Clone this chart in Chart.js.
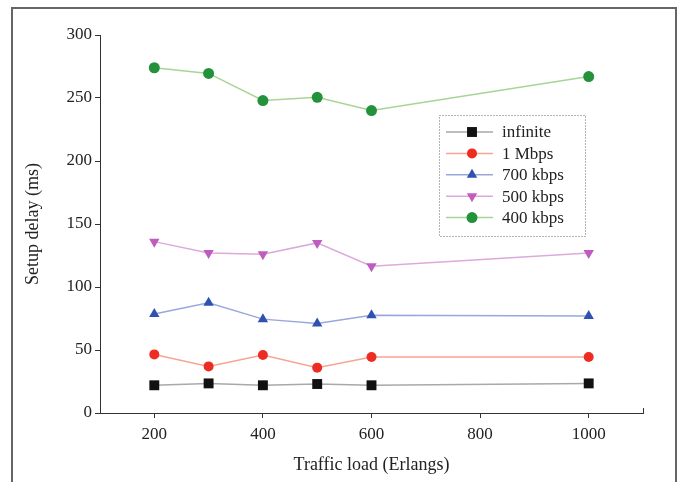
<!DOCTYPE html>
<html>
<head>
<meta charset="utf-8">
<script src="https://cdn.jsdelivr.net/npm/chart.js@4/dist/chart.umd.min.js"></script>
<style>
  html, body { margin: 0; padding: 0; background: #fff; }
  #wrap { position: relative; width: 679px; height: 482px; }
</style>
</head>
<body>
<div id="wrap"><canvas id="delay-chart" width="679" height="482"></canvas></div>
<script>
// traffic load points (Erlangs) and setup delay per link rate (ms)
var loads = [200, 300, 400, 500, 600, 1000];
var xTicks = [200, 400, 600, 800, 1000];
var seriesNames = ['infinite', '1 Mbps', '700 kbps', '500 kbps', '400 kbps'];
var delayInfinite = [22, 23.5, 22, 23, 22, 23.5];
var delay1M = [46.5, 37, 46, 36, 44.5, 44.5];
var delay700k = [78.5, 87.5, 74.5, 71, 77.5, 77];
var delay500k = [136, 127, 126, 135, 116.5, 127];
var delay400k = [274, 269.5, 248, 250.5, 240, 267];

var serif = "'Liberation Serif', 'DejaVu Serif', serif";

function pts(vals){
  return vals.map(function(v, i){ return {x: loads[i], y: v}; });
}

var styles = [
  {line: '#a9a9a9', mark: '#111111', shape: 'rect', r: 7, rot: 0},
  {line: '#f7a493', mark: '#ee2d22', shape: 'circle', r: 5, rot: 0},
  {line: '#98a8dc', mark: '#2f52b0', shape: 'triangle', r: 6, rot: 0},
  {line: '#dcaadb', mark: '#bf5cbf', shape: 'triangle', r: 6, rot: 180},
  {line: '#a6d595', mark: '#24923a', shape: 'circle', r: 5.5, rot: 0}
];
var allDelays = [delayInfinite, delay1M, delay700k, delay500k, delay400k];

var datasets = allDelays.map(function(vals, i){
  var s = styles[i];
  return {
    label: seriesNames[i],
    data: pts(vals),
    borderColor: s.line,
    borderWidth: 1.5,
    backgroundColor: s.mark,
    pointStyle: s.shape,
    pointRadius: s.r,
    pointRotation: s.rot,
    pointBorderColor: s.mark,
    pointBorderWidth: 0,
    pointBackgroundColor: s.mark,
    tension: 0,
    fill: false
  };
});

// outer frame, x-axis end cap and the dotted legend box
var decor = {
  id: 'decor',
  afterDraw: function(chart){
    var ctx = chart.ctx;
    var area = chart.chartArea;
    ctx.save();
    // frame (open at the bottom)
    ctx.strokeStyle = '#666';
    ctx.lineWidth = 2;
    ctx.beginPath();
    ctx.moveTo(12, 482);
    ctx.lineTo(12, 8);
    ctx.lineTo(676, 8);
    ctx.lineTo(676, 482);
    ctx.stroke();

    // small cap at right end of x axis
    ctx.strokeStyle = '#333';
    ctx.lineWidth = 1;
    ctx.beginPath();
    ctx.moveTo(area.right + 0.5, area.bottom);
    ctx.lineTo(area.right + 0.5, area.bottom - 5);
    ctx.stroke();

    // legend
    var bx = 439.5, by = 115.5, bw = 146, bh = 121;
    ctx.strokeStyle = '#666';
    ctx.setLineDash([1, 2]);
    ctx.strokeRect(bx, by, bw, bh);
    ctx.setLineDash([]);
    var rowY = 132, rowStep = 21.4;
    ctx.font = '17px ' + serif;
    ctx.textBaseline = 'middle';
    ctx.textAlign = 'left';
    chart.data.datasets.forEach(function(ds, i){
      var y = rowY + i * rowStep;
      ctx.strokeStyle = ds.borderColor;
      ctx.lineWidth = 1.5;
      ctx.beginPath();
      ctx.moveTo(446, y);
      ctx.lineTo(493, y);
      ctx.stroke();
      ctx.fillStyle = ds.pointBackgroundColor;
      ctx.strokeStyle = ds.pointBackgroundColor;
      Chart.helpers.drawPoint(ctx, {
        pointStyle: ds.pointStyle,
        rotation: ds.pointRotation,
        radius: ds.pointRadius,
        borderWidth: 0
      }, 472, y);
      ctx.fillStyle = '#222';
      ctx.fillText(ds.label, 502, y + 1);
    });
    ctx.restore();
  }
};

var ctx = document.getElementById('delay-chart');
var delayChart = new Chart(ctx, {
  type: 'line',
  data: {datasets: datasets},
  options: {
    responsive: false,
    animation: false,
    layout: {padding: {left: 20, top: 35, right: 36, bottom: 0}},
    plugins: {
      legend: {display: false},
      tooltip: {enabled: false}
    },
    scales: {
      x: {
        type: 'linear',
        min: 100,
        max: 1100,
        afterBuildTicks: function(scale){
          scale.ticks = xTicks.map(function(v){ return {value: v}; });
        },
        afterFit: function(scale){ scale.height = 69; },
        grid: {display: true, drawOnChartArea: false, drawTicks: true, tickLength: 5, color: '#333'},
        border: {display: true, color: '#333', width: 1},
        ticks: {
          color: '#222',
          font: {family: serif, size: 17},
          padding: 6,
          maxRotation: 0,
          callback: function(v){ return String(v); }
        },
        title: {
          display: true,
          text: 'Traffic load (Erlangs)',
          color: '#222',
          font: {family: serif, size: 18},
          padding: {top: 4, bottom: 6}
        }
      },
      y: {
        min: 0,
        max: 300,
        ticks: {stepSize: 50, color: '#222', font: {family: serif, size: 17}, padding: 3},
        afterFit: function(scale){ scale.width = 80; },
        grid: {display: true, drawOnChartArea: false, drawTicks: true, tickLength: 5, color: '#333'},
        border: {display: true, color: '#333', width: 1},
        title: {
          display: true,
          text: 'Setup delay (ms)',
          color: '#222',
          font: {family: serif, size: 18},
          padding: {top: 2, bottom: 4}
        }
      }
    }
  },
  plugins: [decor]
});
</script>
</body>
</html>
